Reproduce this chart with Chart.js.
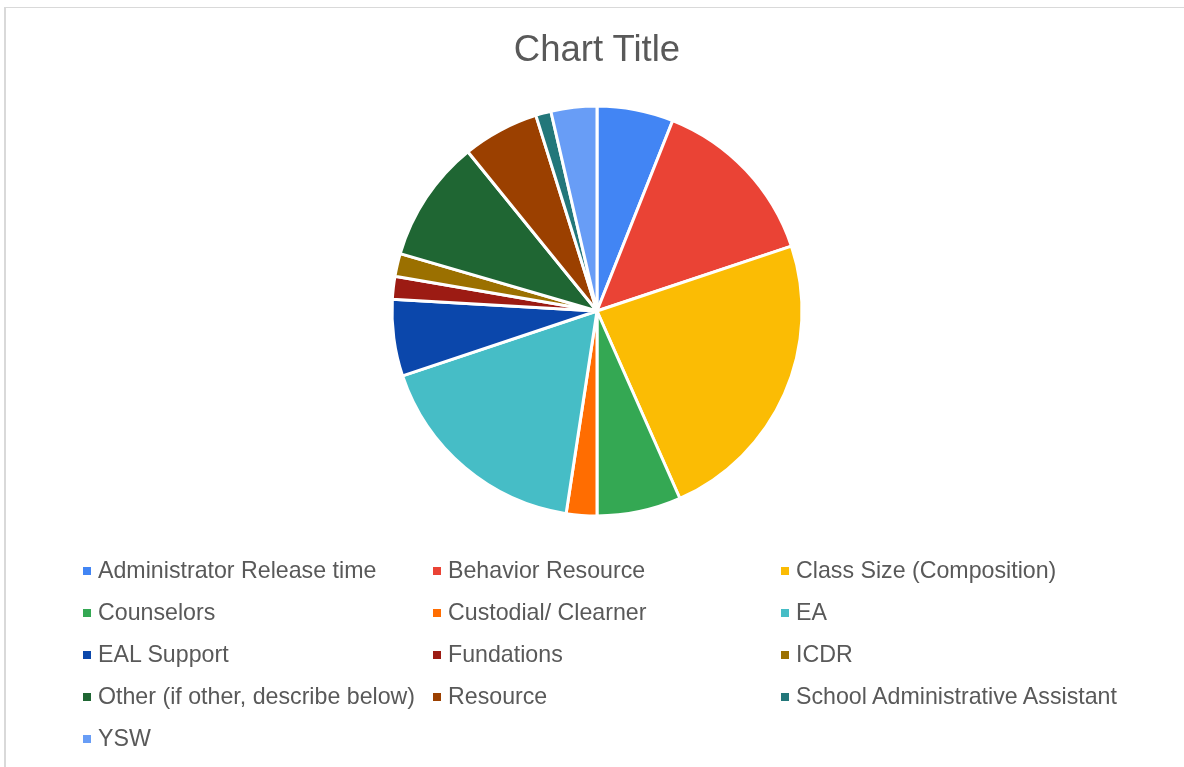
<!DOCTYPE html>
<html>
<head>
<meta charset="utf-8">
<script src="https://cdn.jsdelivr.net/npm/chart.js@4.4.0/dist/chart.umd.min.js"></script>
<style>
  html, body { margin: 0; padding: 0; background: #ffffff; }
  #wrap { position: relative; width: 1184px; height: 767px; overflow: hidden; background: #fff;
          font-family: "Liberation Sans", Arial, sans-serif; color: #595959; }
  #frameTop { position: absolute; left: 4px; top: 7px; width: 1180px; height: 1px; background: #d9d9d9; }
  #frameLeft { position: absolute; left: 4px; top: 7px; width: 2px; height: 760px; background: #d9d9d9; }
  #c { position: absolute; left: 0; top: 0; }
  #title { position: absolute; left: 0; width: 1194px; top: 31px; text-align: center;
           font-size: 36.5px; line-height: 36px; white-space: nowrap; }
  .lg { position: absolute; font-size: 23.2px; line-height: 23px; white-space: nowrap; }
  .mk { position: absolute; width: 8px; height: 8px; }
</style>
</head>
<body>
<div id="wrap">
  <div id="frameTop"></div>
  <div id="frameLeft"></div>
  <canvas id="c" width="1184" height="767"></canvas>
  <div id="title">Chart Title</div>
</div>
<script>
const categories = [
  "Administrator Release time",
  "Behavior Resource",
  "Class Size (Composition)",
  "Counselors",
  "Custodial/ Clearner",
  "EA",
  "EAL Support",
  "Fundations",
  "ICDR",
  "Other (if other, describe below)",
  "Resource",
  "School Administrative Assistant",
  "YSW"
];
const counts = [10, 23, 39, 11, 4, 29, 10, 3, 3, 16, 10, 2, 6];
const colors = [
  "#4285f4", "#ea4335", "#fbbc04", "#34a853", "#ff6d01", "#46bdc6",
  "#0b47ab", "#9c1b13", "#9b7000", "#1f6633", "#9b4000", "#23777a", "#689df6"
];

const canvas = document.getElementById('c');
new Chart(canvas, {
  type: 'pie',
  data: {
    labels: categories,
    datasets: [{
      data: counts,
      backgroundColor: colors,
      borderColor: '#ffffff',
      borderWidth: 3
    }]
  },
  options: {
    responsive: false,
    animation: false,
    radius: 205,
    layout: { padding: { left: 10, right: 0, top: 0, bottom: 145 } },
    plugins: {
      legend: { display: false },
      title: { display: false },
      tooltip: { enabled: false }
    }
  }
});

// HTML legend built from the same arrays (3 columns)
const wrap = document.getElementById('wrap');
const colMarkerX = [83, 433, 781];
const rowTop0 = 559, rowStep = 42.1;
categories.forEach((name, i) => {
  const col = i % 3, row = Math.floor(i / 3);
  const top = rowTop0 + row * rowStep;
  const mk = document.createElement('div');
  mk.className = 'mk';
  mk.style.background = colors[i];
  mk.style.left = colMarkerX[col] + 'px';
  mk.style.top = (top + 7.5) + 'px';
  wrap.appendChild(mk);
  const t = document.createElement('div');
  t.className = 'lg';
  t.textContent = name;
  t.style.left = (colMarkerX[col] + 15) + 'px';
  t.style.top = top + 'px';
  wrap.appendChild(t);
});
</script>
</body>
</html>
